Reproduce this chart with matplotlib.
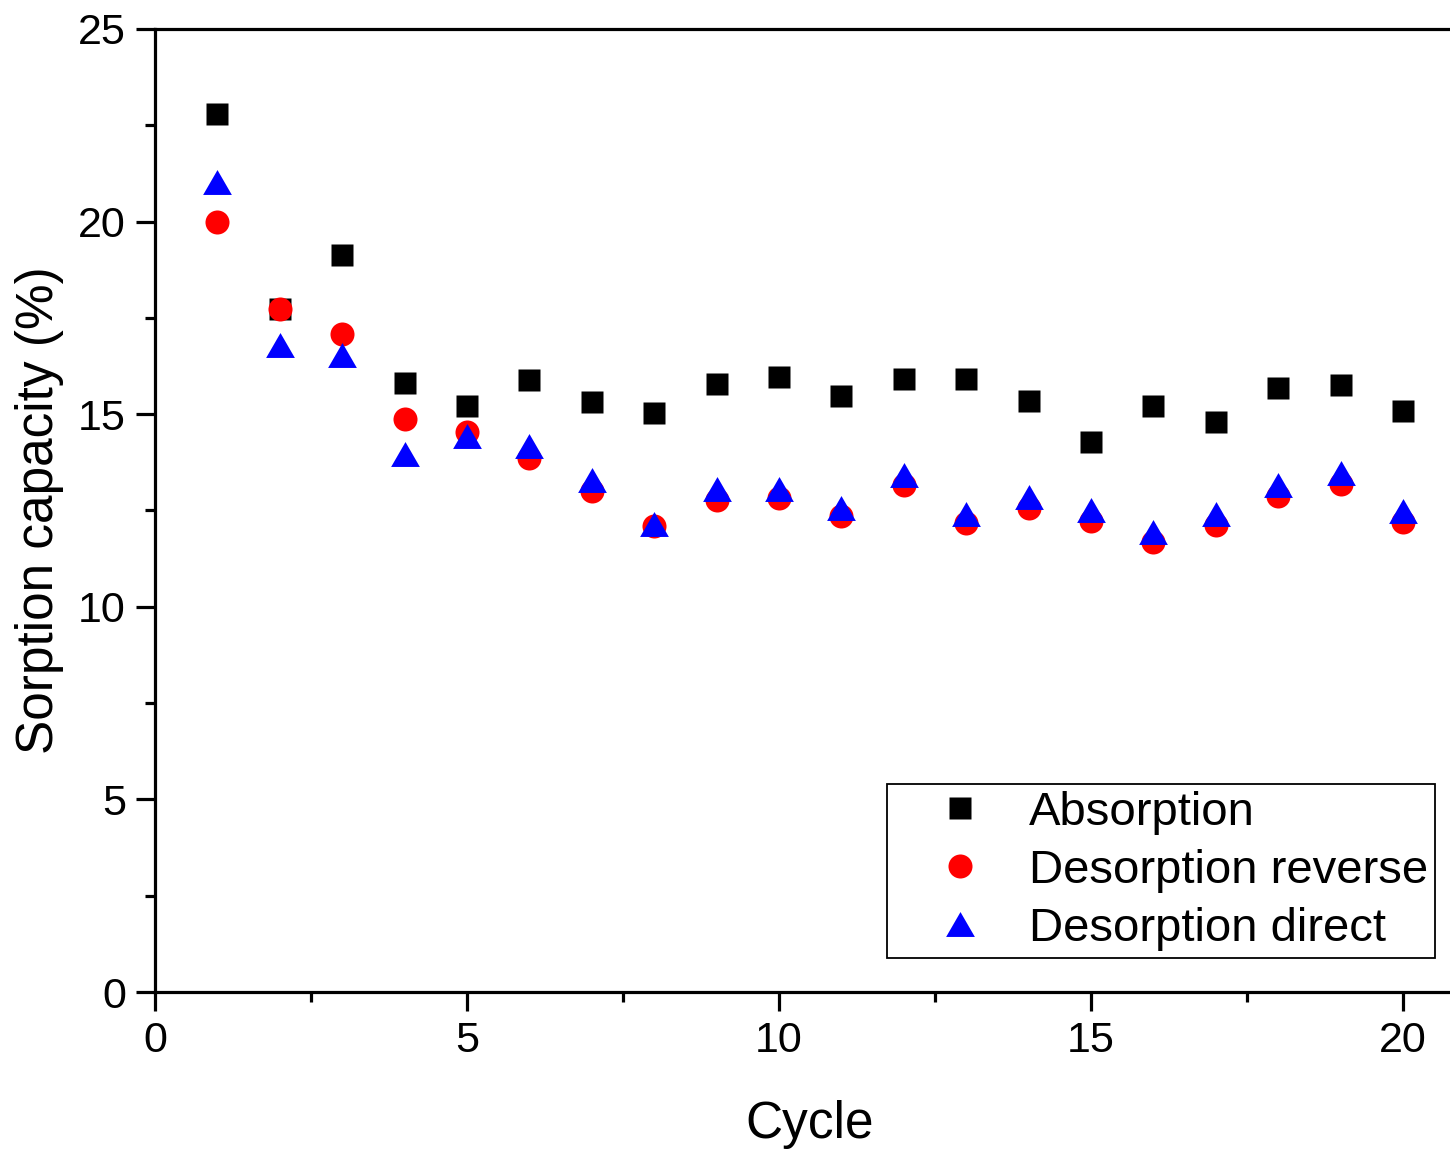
import matplotlib
matplotlib.use("Agg")
import matplotlib.pyplot as plt
from matplotlib.ticker import MultipleLocator

plt.rcParams['font.family'] = ['Liberation Sans', 'DejaVu Sans']

cycles = list(range(1, 21))
absorption = [22.79, 17.73, 19.13, 15.80, 15.21, 15.88, 15.32, 15.02, 15.78, 15.97,
              15.47, 15.91, 15.91, 15.33, 14.29, 15.22, 14.80, 15.69, 15.76, 15.08]
desorption_reverse = [19.99, 17.73, 17.08, 14.88, 14.55, 13.86, 13.01, 12.11, 12.76, 12.82,
                      12.36, 13.16, 12.18, 12.57, 12.23, 11.68, 12.13, 12.87, 13.18, 12.21]
desorption_direct = [21.03, 16.80, 16.54, 13.96, 14.43, 14.17, 13.30, 12.16, 13.05, 13.06,
                     12.56, 13.42, 12.41, 12.86, 12.51, 11.93, 12.41, 13.15, 13.47, 12.48]

labels = ["Absorption", "Desorption reverse", "Desorption direct"]

# equilateral triangle marker, centred on its bounding box
tri = [(-1, -0.866), (1, -0.866), (0, 0.866), (-1, -0.866)]

W, H = 1450, 1151
fig = plt.figure(figsize=(W / 100, H / 100), dpi=100)
ax = fig.add_axes([155 / W, 1 - 992 / H, 1 - 155 / W, (992 - 29) / H])

ax.plot(cycles, absorption, linestyle='none', marker='s', ms=15.3,
        color='black', mec='none', label=labels[0])
ax.plot(cycles, desorption_reverse, linestyle='none', marker='o', ms=17.3,
        color='red', mec='none', label=labels[1])
ax.plot(cycles, desorption_direct, linestyle='none', marker=tri, ms=20.7,
        color='blue', mec='none', label=labels[2])

ax.set_xlim(0, (W - 155) / 62.4)
ax.set_ylim(0, 25)
ax.xaxis.set_major_locator(MultipleLocator(5))
ax.xaxis.set_minor_locator(MultipleLocator(2.5))
ax.yaxis.set_major_locator(MultipleLocator(5))
ax.yaxis.set_minor_locator(MultipleLocator(2.5))

for s in ['left', 'bottom', 'top']:
    ax.spines[s].set_linewidth(2.3)
ax.spines['right'].set_visible(False)

ax.tick_params(which='major', direction='out', length=14, width=2.3,
               labelsize=31, pad=7, top=False, right=False)
ax.tick_params(which='minor', direction='out', length=7, width=2.3,
               top=False, right=False)

ax.set_xlabel("Cycle", fontsize=37)
ax.xaxis.set_label_coords((810 - 155) / (W - 155), -0.112)
ax.xaxis.label.set_verticalalignment('top')
ax.set_ylabel("Sorption capacity (%)", fontsize=37, labelpad=10)

leg = ax.legend(loc='lower right', bbox_to_anchor=(1435 / W, 1 - 958 / H),
                bbox_transform=fig.transFigure, fontsize=34, frameon=True,
                fancybox=False, edgecolor='black', framealpha=1,
                borderpad=0.15, labelspacing=0.3, handletextpad=0.05,
                handlelength=2.8, borderaxespad=0)
leg.get_frame().set_linewidth(1.3)

fig.savefig("out.png", dpi=100)
